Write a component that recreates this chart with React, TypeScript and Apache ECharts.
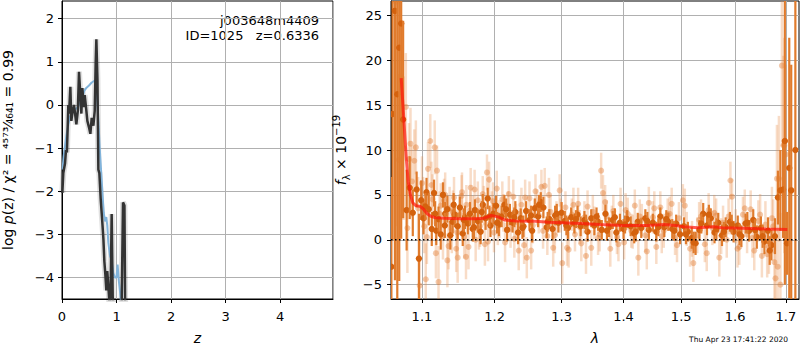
import React, { useEffect, useRef } from "react";
import * as echarts from "echarts";

// ---- Left panel: log p(z) ----
const zTicks = [0, 1, 2, 3, 4];
const pzTicks = [-4, -3, -2, -1, 0, 1, 2];

const zDark = [0.006, 0.024, 0.055, 0.073, 0.09, 0.104, 0.116, 0.13, 0.153, 0.171, 0.196, 0.22, 0.24, 0.263, 0.29, 0.312, 0.336, 0.355, 0.373, 0.4, 0.416, 0.44, 0.465, 0.495, 0.52, 0.545, 0.575, 0.6, 0.618, 0.63, 0.65, 0.667, 0.685, 0.71, 0.735, 0.759, 0.777, 0.795, 0.813, 0.83, 0.85, 0.875, 0.892, 0.911, 0.93, 0.95, 1.0, 1.09, 1.119, 1.145, 1.16, 1.2];
const pzDark = [-2.04, -1.58, -1.36, -1.05, -1.1, -0.52, 0.0, -0.2, 0.42, -0.37, -0.14, 0.0, -0.2, -0.45, -0.14, 0.77, 0.23, -0.2, 0.39, -0.05, 0.23, -0.05, -0.37, -0.52, -0.67, -0.3, -0.48, -0.14, 0.99, 1.52, 0.6, -1.5, -1.58, -2.19, -2.64, -3.1, -3.63, -3.93, -4.3, -3.85, -4.2, -4.7, -4.3, -2.53, -4.45, -4.8, -5.0, -5.0, -2.26, -2.33, -5.0, -5.0];

const zBlue = [0.01, 0.03, 0.055, 0.086, 0.116, 0.147, 0.208, 0.27, 0.33, 0.373, 0.41, 0.45, 0.495, 0.545, 0.594, 0.615, 0.642, 0.667, 0.691, 0.716, 0.74, 0.765, 0.79, 0.813, 0.83, 0.85, 0.88, 0.91, 0.94, 0.97, 1.0, 1.02, 1.04, 1.07, 1.1];
const pzBlue = [-1.5, -1.2, -0.95, -0.67, -0.45, -0.27, -0.11, -0.08, 0.03, 0.18, 0.33, 0.4, 0.45, 0.52, 0.56, 0.55, 0.23, -0.37, -0.98, -1.5, -2.0, -2.5, -2.7, -2.6, -2.8, -3.2, -3.5, -3.6, -3.9, -4.0, -4.0, -3.7, -4.05, -4.4, -4.8];

// ---- Right panel: spectrum ----
const lamTicks = [1.1, 1.2, 1.3, 1.4, 1.5, 1.6, 1.7];
const fluxTicks = [-5, 0, 5, 10, 15, 20, 25];

const lamDark = [
  1.0605, 1.062, 1.065, 1.068, 1.0705, 1.073, 1.0755, 1.08, 1.084, 1.088,
  1.093, 1.096, 1.099, 1.102, 1.106, 1.109, 1.113, 1.116, 1.119, 1.122,
  1.125, 1.128, 1.131, 1.134, 1.138, 1.141, 1.144, 1.148, 1.151, 1.155,
  1.158, 1.162, 1.165, 1.169, 1.172, 1.176, 1.18, 1.183, 1.187, 1.19,
  1.194, 1.198, 1.202, 1.206, 1.21, 1.214, 1.218, 1.222, 1.226, 1.23,
  1.234, 1.238, 1.242, 1.246, 1.251, 1.255, 1.259, 1.264, 1.268, 1.272,
  1.277, 1.281, 1.286, 1.29, 1.295, 1.3, 1.305, 1.31, 1.315, 1.32,
  1.325, 1.33, 1.336, 1.341, 1.347, 1.352, 1.358, 1.364, 1.37, 1.376,
  1.382, 1.388, 1.394, 1.4, 1.406, 1.412, 1.418, 1.424, 1.43, 1.437,
  1.443, 1.45, 1.456, 1.463, 1.47, 1.477, 1.484, 1.491, 1.498, 1.505,
  1.512, 1.519, 1.526, 1.533, 1.54, 1.547, 1.554, 1.561, 1.568, 1.575,
  1.582, 1.59, 1.597, 1.605, 1.612, 1.62, 1.627, 1.635, 1.642, 1.65,
  1.657, 1.664, 1.671, 1.678, 1.684, 1.689, 1.6945, 1.698, 1.7025, 1.707,
  1.711, 1.7195,
];
const fluxDark = [
  -3, 14, 25.5, 16.2, 21.4, 24.1, 13.4, 3.3, 5.8, 3.0,
  5.6, -2.1, 4.4, 2.4, 5.3, 3.4, 1.2, 5.2, 1.0, 2.3,
  0.6, 5.0, 2.9, 3.4, 0.5, 2.0, 2.8, 1.5, 3.6, 0.7,
  2.5, 1.8, 2.9, 1.2, 3.3, 2.1, 0.9, 3.9, 2.4, 4.6,
  1.6, 2.9, 3.8, 1.7, 2.6, 3.9, 1.1, 2.8, 1.9, 3.1,
  0.8, 2.4, 1.5, 3.2, 2.2, 1.0, 3.5, 2.6, 4.2, 3.6,
  1.4, 2.3, 1.2, 2.7, 1.9, 3.0, 2.1, 1.3, 2.5, 1.8,
  2.8, 1.5, 2.2, 0.9, 2.4, 1.6, 2.0, 1.1, 2.9, 1.4,
  2.2, 0.8, 1.9, 1.2, 2.3, 1.5, 0.7, 2.0, 1.3, 2.4,
  1.1, 1.9, 0.9, 2.6, 1.4, 2.0, 1.2, 1.8, 0.6, 1.5,
  0.9, 0.2, -0.4, 1.1, 2.9, 1.6, 2.4, 0.8, 1.9, 0.5,
  1.4, 2.0, 0.9, 1.6, 0.4, 1.8, 1.0, 2.2, 0.3, 1.3,
  -0.2, 1.0, -0.6, 0.4, 4.7, 5.5, 5.6, 11, -0.4, 8,
  5.5, 10,
];
const errDark = [
  10, 14, 30, 26, 26, 24, 11, 4.5, 3.5, 2.6,
  2.0, 5.0, 2.2, 1.8, 1.6, 1.8, 1.9, 1.5, 1.6, 1.4,
  1.7, 1.4, 1.3, 1.5, 1.6, 1.3, 1.4, 1.5, 1.2, 1.4,
  1.3, 1.2, 1.3, 1.4, 1.2, 1.3, 1.4, 1.2, 1.3, 1.2,
  1.3, 1.2, 1.1, 1.3, 1.2, 1.1, 1.3, 1.2, 1.1, 1.2,
  1.3, 1.1, 1.2, 1.1, 1.2, 1.3, 1.1, 1.2, 1.1, 1.2,
  1.2, 1.1, 1.2, 1.1, 1.1, 1.2, 1.1, 1.2, 1.1, 1.1,
  1.0, 1.1, 1.0, 1.1, 1.0, 1.1, 1.0, 1.1, 1.0, 1.1,
  1.0, 1.1, 1.0, 1.1, 1.0, 1.1, 1.1, 1.0, 1.1, 1.0,
  1.1, 1.0, 1.1, 1.0, 1.1, 1.0, 1.1, 1.0, 1.1, 1.0,
  1.1, 1.2, 1.3, 1.1, 1.2, 1.1, 1.1, 1.2, 1.1, 1.2,
  1.1, 1.1, 1.2, 1.1, 1.2, 1.1, 1.2, 1.2, 1.3, 1.3,
  1.4, 1.5, 1.7, 2.0, 3.0, 4.5, 5.4, 16, 3.5, 14.5,
  14, 30,
];

const lamDark2 = [
  1.1045, 1.1175, 1.1305, 1.1425, 1.1565, 1.1705, 1.1815, 1.1925, 1.2035, 1.2165,
  1.2285, 1.2405, 1.2535, 1.2655, 1.2785, 1.2925, 1.3075, 1.3225, 1.3385, 1.3555,
  1.3725, 1.3855, 1.4025, 1.4205, 1.4405, 1.4595, 1.4735, 1.4875, 1.5085, 1.5225,
  1.5365, 1.5505, 1.5645, 1.5785, 1.5935, 1.6085, 1.6235, 1.6385, 1.6535, 1.6675,
];
const fluxDark2 = [
  3.7, 2.9, 1.6, 3.9, 2.2, 1.4, 3.1, 2.6, 1.9, 3.4,
  2.5, 1.3, 2.7, 3.9, 2.0, 2.9, 1.6, 2.3, 1.8, 2.6,
  1.0, 2.5, 1.7, 0.9, 2.1, 1.4, 2.3, 1.0, 0.6, -0.3,
  1.8, 2.8, 1.2, 0.9, 1.7, 0.6, 1.9, 1.1, 0.4, -1.2,
];
const errDark2 = [
  1.5, 1.4, 1.4, 1.3, 1.3, 1.3, 1.2, 1.2, 1.2, 1.2,
  1.1, 1.2, 1.1, 1.1, 1.1, 1.1, 1.1, 1.0, 1.0, 1.0,
  1.1, 1.0, 1.0, 1.1, 1.0, 1.0, 1.0, 1.1, 1.1, 1.2,
  1.1, 1.1, 1.2, 1.1, 1.1, 1.2, 1.2, 1.2, 1.3, 1.6,
];

const lamLight = [
  1.066, 1.07, 1.072, 1.076, 1.079, 1.081, 1.083, 1.085, 1.087, 1.09,
  1.092, 1.095, 1.097, 1.1, 1.103, 1.105, 1.108, 1.111, 1.114, 1.117,
  1.12, 1.122, 1.125, 1.128, 1.131, 1.134, 1.137, 1.14, 1.143, 1.146,
  1.148, 1.151, 1.154, 1.157, 1.16, 1.163, 1.166, 1.169, 1.173, 1.176,
  1.179, 1.183, 1.186, 1.189, 1.192, 1.196, 1.199, 1.203, 1.207, 1.211,
  1.215, 1.219, 1.223, 1.227, 1.231, 1.235, 1.239, 1.243, 1.247, 1.251,
  1.256, 1.26, 1.265, 1.269, 1.274, 1.278, 1.283, 1.287, 1.292, 1.297,
  1.301, 1.306, 1.311, 1.316, 1.321, 1.326, 1.331, 1.336, 1.341, 1.347,
  1.352, 1.358, 1.363, 1.366, 1.372, 1.378, 1.383, 1.389, 1.395, 1.401,
  1.407, 1.413, 1.419, 1.425, 1.431, 1.437, 1.443, 1.45, 1.456, 1.463,
  1.469, 1.476, 1.483, 1.489, 1.496, 1.503, 1.51, 1.516, 1.522, 1.529,
  1.536, 1.543, 1.55, 1.557, 1.564, 1.57, 1.577, 1.584, 1.591, 1.594,
  1.601, 1.608, 1.615, 1.623, 1.63, 1.637, 1.645, 1.652, 1.659, 1.666,
  1.672, 1.677, 1.679, 1.682, 1.686, 1.689, 1.692, 1.695, 1.697, 1.7,
];
const fluxLight = [
  26.5, 8.9, 18.2, 10.2, 14.8, 1.3, 9.0, 10.7, 6.5, 8.8,
  10.3, 3.5, -5.1, 6.3, 1.5, -4.4, 7.9, 11.0, 4.5, 10.3,
  7.7, -4.7, 3.8, 0.4, 5.0, -2.3, 3.5, 1.0, 4.7, -1.0,
  -2.0, 2.8, 5.3, 0.3, 3.9, -0.8, 5.8, 2.6, 0.0, 4.4,
  1.5, 5.1, -0.5, 7.5, 6.7, 3.3, 0.8, 5.7, 2.3, 4.5,
  -0.3, 3.4, 1.2, 4.8, 2.0, -1.2, 3.9, -0.6, -2.0, 4.6,
  1.6, 5.4, 2.7, 5.9, 6.0, 0.4, 3.1, -0.9, 2.4, 5.5,
  -2.6, 3.6, -1.1, 2.8, 0.6, 4.0, -0.4, 2.5, 3.7, -0.9,
  1.9, 0.2, 7.7, 5.2, 2.6, -1.0, 3.2, 0.3, 4.0, -0.3,
  2.9, 1.0, 3.8, -2.0, 2.2, 0.5, 4.1, 2.5, -0.8, 3.6,
  1.0, 2.8, 4.0, 0.2, 2.4, 4.4, 1.2, -1.0, -2.6, 0.5,
  2.6, -0.5, 3.3, 1.3, 2.7, -2.0, 1.9, 0.0, 6.6, 4.8,
  1.5, -0.8, 2.8, 0.6, 3.4, -1.2, 2.1, -1.8, 1.7, -0.8,
  2.4, -2.5, -4.3, 6.8, 6.8, -5.0, 19.4, 10.5, 10.5, 9.5,
];
const errLight = [
  25, 9, 12, 8, 6, 5, 4, 4, 4, 3.5,
  3, 3.5, 5, 3, 3, 4, 3, 3, 2.8, 3,
  2.8, 4, 2.5, 2.6, 2.5, 3, 2.4, 2.5, 2.3, 2.6,
  2.8, 2.3, 2.2, 2.4, 2.2, 2.5, 2.2, 2.3, 2.4, 2.1,
  2.3, 2.0, 2.4, 2.0, 2.0, 2.1, 2.2, 2.0, 2.1, 2.0,
  2.2, 2.0, 2.1, 1.9, 2.0, 2.2, 1.9, 2.1, 2.3, 1.9,
  2.0, 1.9, 2.0, 1.9, 2.0, 2.1, 1.9, 2.1, 1.9, 1.8,
  2.3, 1.8, 2.0, 1.8, 1.9, 1.8, 2.0, 1.8, 1.8, 2.0,
  1.8, 1.9, 2.0, 2.0, 1.8, 2.0, 1.8, 1.9, 1.8, 1.9,
  1.8, 1.9, 1.8, 2.0, 1.8, 1.9, 1.8, 1.8, 1.9, 1.8,
  1.9, 1.8, 1.8, 1.9, 1.8, 1.8, 1.9, 2.0, 2.1, 2.0,
  1.9, 2.0, 1.9, 1.9, 1.9, 2.1, 1.9, 2.0, 2.1, 2.0,
  1.9, 2.0, 2.0, 2.1, 2.1, 2.2, 2.3, 2.4, 2.6, 3.0,
  3.5, 4.5, 5, 6, 7, 8, 9, 10, 12, 10,
];

const lamLight2 = [
  1.1015, 1.1065, 1.1125, 1.1185, 1.1235, 1.1295, 1.1355, 1.1415, 1.1475, 1.1535,
  1.1595, 1.1655, 1.1715, 1.1775, 1.1845, 1.1905, 1.1975, 1.2045, 1.2125, 1.2205,
  1.2285, 1.2365, 1.2445, 1.2535, 1.2625, 1.2715, 1.2805, 1.2895, 1.2985, 1.3085,
  1.3185, 1.3285, 1.3385, 1.3495, 1.3605, 1.3695, 1.3805, 1.3915, 1.4035, 1.4155,
  1.4275, 1.4395, 1.4525, 1.4655, 1.4795, 1.4925, 1.5065, 1.5195, 1.5325, 1.5465,
  1.5605, 1.5735, 1.5875, 1.6045, 1.6185, 1.6335, 1.6485, 1.6625, 1.6745, 1.6835,
];
const fluxLight2 = [
  4.2, 0.3, 6.1, -1.5, 2.9, 4.4, -0.7, 3.1, 0.8, 4.9,
  -1.9, 3.3, 5.6, 1.2, 3.8, -0.2, 4.3, 1.5, 3.0, 5.1,
  0.1, 2.9, 4.7, -1.2, 3.6, 1.0, 5.0, 0.5, 2.7, -0.9,
  3.9, 1.4, -1.8, 3.1, 0.6, 4.2, 1.9, -0.5, 3.3, 0.9,
  2.6, -1.3, 3.5, 0.4, 2.9, -0.6, 3.8, 0.1, 2.2, -1.5,
  3.0, 0.4, 2.6, -1.0, 3.5, 0.2, 2.8, -1.6, 1.5, -3.0,
];
const errLight2 = [
  2.8, 3.0, 2.6, 2.8, 2.5, 2.4, 2.6, 2.4, 2.5, 2.3,
  2.5, 2.2, 2.2, 2.3, 2.2, 2.2, 2.1, 2.1, 2.1, 2.0,
  2.1, 2.0, 2.0, 2.1, 2.0, 2.0, 1.9, 2.0, 1.9, 2.0,
  1.9, 1.9, 2.0, 1.9, 1.9, 1.9, 1.9, 1.9, 1.9, 1.9,
  1.9, 2.0, 1.9, 1.9, 1.9, 1.9, 1.9, 2.0, 2.0, 2.0,
  2.0, 2.0, 2.0, 2.1, 2.1, 2.2, 2.3, 2.6, 3.0, 4.0,
];

const lamModel = [1.073, 1.076, 1.078, 1.08, 1.082, 1.085, 1.088, 1.092, 1.098, 1.102, 1.107, 1.112, 1.118, 1.13, 1.15, 1.17, 1.185, 1.195, 1.205, 1.215, 1.23, 1.26, 1.28, 1.3, 1.33, 1.36, 1.4, 1.44, 1.47, 1.49, 1.505, 1.53, 1.545, 1.56, 1.575, 1.6, 1.63, 1.66, 1.703];
const fluxModel = [18.0, 14.0, 11.2, 8.6, 6.5, 5.0, 4.1, 3.8, 3.7, 3.4, 2.9, 2.6, 2.45, 2.4, 2.35, 2.35, 2.4, 2.7, 2.55, 2.2, 2.1, 2.05, 1.95, 1.9, 1.8, 1.7, 1.6, 1.6, 1.7, 1.6, 1.45, 1.35, 1.4, 1.45, 1.35, 1.3, 1.25, 1.2, 1.15];

const lamMin = 1.06;
const lamMax = 1.727;

const FONT = "DejaVu Sans";
const minus = (s: string) => s.replace("-", "\u2212");

function makeErr(bar: string, dot: string, lw: number, r: number) {
  return (params: any, api: any) => {
    const x = api.value(0);
    const y = api.value(1);
    const e = api.value(2);
    const c = api.coord([x, y]);
    const t = api.coord([x, y + e]);
    const b = api.coord([x, y - e]);
    return {
      type: "group",
      children: [
        { type: "line", shape: { x1: c[0], y1: t[1], x2: c[0], y2: b[1] }, style: { stroke: bar, lineWidth: lw } },
        { type: "circle", shape: { cx: c[0], cy: c[1], r }, style: { fill: dot } },
      ],
    };
  };
}

function triples(lam: number[], f: number[], e: number[]) {
  return lam.map((l, i) => [Math.log(l), f[i], e[i]]);
}

export default function App() {
  const ref = useRef<HTMLDivElement>(null);
  useEffect(() => {
    if (!ref.current) return;
    const chart = echarts.init(ref.current, undefined, { renderer: "svg" });
    const axisCommon = {
      axisLine: { show: true, onZero: false, lineStyle: { color: "#000", width: 1 } },
      axisTick: { show: true, inside: false, length: 4, lineStyle: { color: "#000" } },
      splitLine: { show: true, lineStyle: { color: "#b0b0b0", width: 1 } },
    };
    const labelCommon = { color: "#000", fontFamily: FONT, fontSize: 13 };
    const darkData = triples(lamDark, fluxDark, errDark).concat(triples(lamDark2, fluxDark2, errDark2));
    const lightData = triples(lamLight, fluxLight, errLight).concat(triples(lamLight2, fluxLight2, errLight2));
    const option: any = {
      animation: false,
      grid: [
        { left: 62, top: 1, width: 271, height: 303, show: true, borderColor: "#000", borderWidth: 1, backgroundColor: "transparent" },
        { left: 391, top: 1, width: 408, height: 303, show: true, borderColor: "#000", borderWidth: 1, backgroundColor: "transparent" },
      ],
      xAxis: [
        {
          gridIndex: 0, type: "value", min: 0, max: 4.97, interval: 1, ...axisCommon,
          axisLabel: { ...labelCommon, margin: 11, showMaxLabel: false, formatter: (v: number) => (zTicks.indexOf(v) >= 0 ? minus(String(v)) : "") },
          name: "z", nameLocation: "middle", nameGap: 32,
          nameTextStyle: { fontFamily: FONT, fontSize: 14, fontStyle: "italic", color: "#000" },
        },
        {
          gridIndex: 1, type: "value", min: Math.log(lamMin), max: Math.log(lamMax), ...axisCommon,
          axisTick: { ...axisCommon.axisTick, customValues: lamTicks.map(Math.log) },
          axisLabel: { ...labelCommon, margin: 11, customValues: lamTicks.map(Math.log), formatter: (v: number) => Math.exp(v).toFixed(1) },
          name: "\u03bb", nameLocation: "middle", nameGap: 32,
          nameTextStyle: { fontFamily: FONT, fontSize: 14, fontStyle: "italic", color: "#000" },
        },
      ],
      yAxis: [
        {
          gridIndex: 0, type: "value", min: -4.5, max: 2.41, ...axisCommon,
          axisTick: { ...axisCommon.axisTick, customValues: pzTicks },
          axisLabel: { ...labelCommon, margin: 8, customValues: pzTicks, formatter: (v: number) => minus(String(v)) },
          name: "log {i|p}(z) / \u03c7\u00b2 = \u2074\u2075\u2077\u00b3\u2044\u2084\u2086\u2084\u2081 = 0.99",
          nameLocation: "middle", nameGap: 47, nameRotate: 90,
          nameTextStyle: { fontFamily: FONT, fontSize: 14, color: "#000", rich: { i: { fontFamily: FONT, fontSize: 14, fontStyle: "italic", color: "#000" } } },
        },
        {
          gridIndex: 1, type: "value", min: -6.6, max: 26.6, ...axisCommon,
          axisTick: { ...axisCommon.axisTick, customValues: fluxTicks },
          axisLabel: { ...labelCommon, margin: 9, customValues: fluxTicks, formatter: (v: number) => minus(String(v)) },
          name: "{i|f}{sub|\u03bb} \u00d7 10{sup|\u221219}",
          nameLocation: "middle", nameGap: 40, nameRotate: 90,
          nameTextStyle: {
            fontFamily: FONT, fontSize: 14, color: "#000", lineHeight: 20,
            rich: {
              i: { fontFamily: FONT, fontSize: 14, fontStyle: "italic", color: "#000", lineHeight: 20 },
              sub: { fontFamily: FONT, fontSize: 10, color: "#000", verticalAlign: "bottom", lineHeight: 20 },
              sup: { fontFamily: FONT, fontSize: 10, color: "#000", verticalAlign: "top", lineHeight: 20 },
            },
          },
        },
      ],
      series: [
        {
          type: "line", xAxisIndex: 0, yAxisIndex: 0, showSymbol: false, silent: true,
          data: zDark.map((z, i) => [z, pzDark[i]]),
          lineStyle: { color: "rgba(0,0,0,0.12)", width: 6 }, z: 2,
        },
        {
          type: "line", xAxisIndex: 0, yAxisIndex: 0, showSymbol: false, silent: true,
          data: zBlue.map((z, i) => [z, pzBlue[i]]),
          lineStyle: { color: "#82b4db", width: 2 }, z: 3,
        },
        {
          type: "line", xAxisIndex: 0, yAxisIndex: 0, showSymbol: false, silent: true,
          data: zDark.map((z, i) => [z, pzDark[i]]),
          lineStyle: { color: "#333333", width: 2.5 }, z: 4,
        },
        {
          type: "custom", xAxisIndex: 1, yAxisIndex: 1, clip: true, silent: true,
          renderItem: makeErr("rgba(232,140,70,0.3)", "rgba(226,120,45,0.4)", 2.5, 3),
          data: lightData, encode: { x: 0, y: 1 }, z: 2,
        },
        {
          type: "custom", xAxisIndex: 1, yAxisIndex: 1, clip: true, silent: true,
          renderItem: makeErr("#e07b2c", "#d4620e", 2.2, 3.2),
          data: darkData, encode: { x: 0, y: 1 }, z: 3,
        },
        {
          type: "line", xAxisIndex: 1, yAxisIndex: 1, showSymbol: false, silent: true,
          data: lamModel.map((l, i) => [Math.log(l), fluxModel[i]]),
          lineStyle: { color: "rgba(255,20,10,0.7)", width: 3 }, z: 4,
        },
        {
          type: "line", xAxisIndex: 1, yAxisIndex: 1, showSymbol: false, silent: true,
          data: [[Math.log(lamMin), 0], [Math.log(lamMax), 0]],
          lineStyle: { color: "#000", width: 1.5, type: [1.5, 2.5] }, z: 5,
        },
      ],
      graphic: [
        { type: "text", x: 319, y: 20, style: { text: "j003648m4409", align: "right", verticalAlign: "middle", fontFamily: FONT, fontSize: 13, fill: "#000" } },
        { type: "text", x: 319, y: 35, style: { text: "ID=1025\u00a0\u00a0\u00a0z=0.6336", align: "right", verticalAlign: "middle", fontFamily: FONT, fontSize: 13, fill: "#000" } },
        { type: "text", x: 788, y: 339, style: { text: "Thu Apr 23 17:41:22 2020", align: "right", verticalAlign: "middle", fontFamily: FONT, fontSize: 7.5, fill: "#000" } },
      ],
    };
    chart.setOption(option);
    return () => chart.dispose();
  }, []);
  return <div ref={ref} style={{ position: "absolute", left: 0, top: 0, width: 800, height: 350 }} />;
}
